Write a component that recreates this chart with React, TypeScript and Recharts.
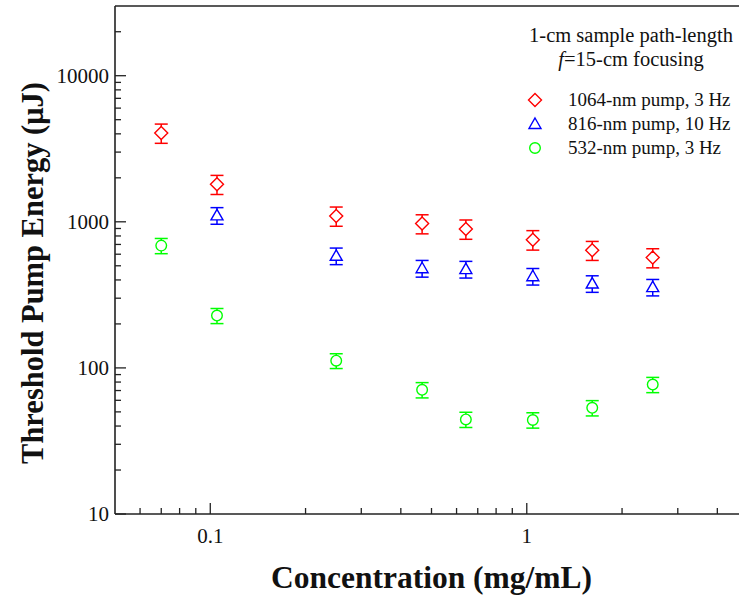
import React from 'react';
import { ScatterChart, Scatter, XAxis, YAxis, ErrorBar, ReferenceLine, Legend } from 'recharts';

// concentration (mg/mL) at each measured point
const concentrations = [0.07, 0.105, 0.25, 0.467, 0.642, 1.045, 1.61, 2.5];
const concentrations816 = [0.105, 0.25, 0.467, 0.642, 1.045, 1.61, 2.5];

// threshold pump energy (uJ) and error
const pump1064 = [4055, 1808, 1097, 972, 894, 755, 639, 569];
const pump1064Err = [610, 270, 165, 145, 135, 115, 95, 85];
const pump816 = [1106, 585, 481, 474, 424, 378, 357];
const pump816Err = [144, 76, 63, 62, 55, 49, 46];
const pump532 = [687, 228, 112, 70.8, 44.4, 44.0, 53.3, 76.9];
const pump532Err = [82, 27, 13, 8.5, 5.3, 5.3, 6.4, 9.2];

const seriesNames = ['1064-nm pump, 3 Hz', '816-nm pump, 10 Hz', '532-nm pump, 3 Hz'];

const xTicks = [0.06, 0.07, 0.08, 0.09, 0.1, 0.2, 0.3, 0.4, 0.5, 0.6, 0.7, 0.8, 0.9, 1, 2, 3, 4];
const xLabels = [0.1, 1];
const yTicks = [10, 20, 30, 40, 50, 60, 70, 80, 90, 100, 200, 300, 400, 500, 600, 700, 800, 900,
    1000, 2000, 3000, 4000, 5000, 6000, 7000, 8000, 9000, 10000, 20000];
const yLabels = [10, 100, 1000, 10000];

const RED = '#ff0000';
const BLUE = '#0000ff';
const GREEN = '#00ff00';
const AXIS = '#222';
const FONT = '"Liberation Serif", "Times New Roman", serif';

const data1064 = concentrations.map((x, i) => ({ x, y: pump1064[i], err: pump1064Err[i] }));
const data816 = concentrations816.map((x, i) => ({ x, y: pump816[i], err: pump816Err[i] }));
const data532 = concentrations.map((x, i) => ({ x, y: pump532[i], err: pump532Err[i] }));

const Diamond = ({ cx, cy, color }: any) => (
    <path d={`M${cx},${cy - 6.5}L${cx + 6.5},${cy}L${cx},${cy + 6.5}L${cx - 6.5},${cy}Z`}
        fill="#fff" stroke={color} strokeWidth={1.4} />
);
const Triangle = ({ cx, cy, color }: any) => (
    <path d={`M${cx},${cy - 6}L${cx + 6},${cy + 4.5}L${cx - 6},${cy + 4.5}Z`}
        fill="#fff" stroke={color} strokeWidth={1.4} />
);
const Circle = ({ cx, cy, color }: any) => (
    <circle cx={cx} cy={cy} r={5.3} fill="#fff" stroke={color} strokeWidth={1.4} />
);

const shapes: Record<string, any> = {
    [seriesNames[0]]: Diamond,
    [seriesNames[1]]: Triangle,
    [seriesNames[2]]: Circle,
};

const XTick = ({ x, y, payload }: any) => {
    const major = xLabels.includes(payload.value);
    return (
        <g>
            <line x1={x} y1={y} x2={x} y2={y - (major ? 11 : 6)} stroke={AXIS} strokeWidth={1.3} />
            {major && (
                <text x={x} y={y + 29} textAnchor="middle" fontSize={21} fontFamily={FONT} fill="#111">
                    {payload.value}
                </text>
            )}
        </g>
    );
};

const YTick = ({ x, y, payload }: any) => {
    const major = yLabels.includes(payload.value);
    return (
        <g>
            <line x1={x} y1={y} x2={x + (major ? 11 : 6)} y2={y} stroke={AXIS} strokeWidth={1.3} />
            {major && (
                <text x={x - 6} y={y} dy="0.35em" textAnchor="end" fontSize={21} fontFamily={FONT} fill="#111">
                    {payload.value}
                </text>
            )}
        </g>
    );
};

const renderLegend = ({ payload }: any) => {
    const items = seriesNames
        .map((n) => payload.find((p: any) => p.value === n))
        .filter(Boolean);
    return (
        <div style={{ fontFamily: FONT, fontSize: 20.5, lineHeight: '24px', color: '#111' }}>
            <div style={{ textAlign: 'center' }}>1-cm sample path-length</div>
            <div style={{ textAlign: 'center' }}><i>f</i>=15-cm focusing</div>
            <div style={{ marginTop: 17, fontSize: 19 }}>
                {items.map((entry: any) => {
                    const Shape = shapes[entry.value];
                    return (
                        <div key={entry.value} style={{ display: 'flex', alignItems: 'center', height: 24 }}>
                            <svg width={16} height={16} style={{ marginLeft: 7, flexShrink: 0 }}>
                                <Shape cx={8} cy={8} color={entry.color} />
                            </svg>
                            <span style={{ marginLeft: 25, whiteSpace: 'nowrap' }}>{entry.value}</span>
                        </div>
                    );
                })}
            </div>
        </div>
    );
};

export default function App() {
    return (
        <div style={{ position: 'absolute', left: 0, top: 0, width: 739, height: 596, overflow: 'hidden', background: '#fff' }}>
            <ScatterChart width={760} height={596} margin={{ top: 6, right: 12, bottom: 22, left: 0 }}>
                <XAxis
                    dataKey="x"
                    type="number"
                    scale="log"
                    domain={[0.05, 5]}
                    allowDataOverflow
                    ticks={xTicks}
                    interval={0}
                    height={60}
                    tickSize={0}
                    tickLine={false}
                    tickMargin={0}
                    tick={<XTick />}
                    axisLine={{ stroke: AXIS, strokeWidth: 1.6 }}
                    label={(props: any) => {
                        const vb = props.viewBox;
                        return (
                            <text x={vb.x + vb.width / 2} y={vb.y + 63} dy="0.35em" textAnchor="middle"
                                fontSize={31.5} fontWeight="bold" fontFamily={FONT} fill="#111">
                                Concentration (mg/mL)
                            </text>
                        );
                    }}
                />
                <YAxis
                    dataKey="y"
                    type="number"
                    scale="log"
                    domain={[10, 30000]}
                    allowDataOverflow
                    ticks={yTicks}
                    interval={0}
                    width={115}
                    tickSize={0}
                    tickLine={false}
                    tickMargin={0}
                    tick={<YTick />}
                    axisLine={{ stroke: AXIS, strokeWidth: 1.6 }}
                    label={(props: any) => {
                        const vb = props.viewBox;
                        const cy = vb.y + vb.height / 2 + 13;
                        return (
                            <text x={32} y={cy} dy="0.35em" textAnchor="middle" transform={`rotate(-90, 32, ${cy})`}
                                fontSize={30.5} fontWeight="bold" fontFamily={FONT} fill="#111">
                                Threshold Pump Energy (μJ)
                            </text>
                        );
                    }}
                />
                <ReferenceLine y={30000} stroke={AXIS} strokeWidth={1.6} />
                <ReferenceLine x={5} stroke={AXIS} strokeWidth={1.6} />
                <Legend
                    layout="vertical"
                    align="center"
                    verticalAlign="middle"
                    content={renderLegend}
                    wrapperStyle={{ left: 520, top: 23, width: 222 }}
                />
                <Scatter name={seriesNames[0]} data={data1064} fill={RED} stroke={RED}
                    shape={(p: any) => <Diamond cx={p.cx} cy={p.cy} color={RED} />} isAnimationActive={false}>
                    <ErrorBar dataKey="err" direction="y" width={6.5} stroke={RED} strokeWidth={1.5} isAnimationActive={false} />
                </Scatter>
                <Scatter name={seriesNames[1]} data={data816} fill={BLUE} stroke={BLUE}
                    shape={(p: any) => <Triangle cx={p.cx} cy={p.cy} color={BLUE} />} isAnimationActive={false}>
                    <ErrorBar dataKey="err" direction="y" width={6.5} stroke={BLUE} strokeWidth={1.5} isAnimationActive={false} />
                </Scatter>
                <Scatter name={seriesNames[2]} data={data532} fill={GREEN} stroke={GREEN}
                    shape={(p: any) => <Circle cx={p.cx} cy={p.cy} color={GREEN} />} isAnimationActive={false}>
                    <ErrorBar dataKey="err" direction="y" width={6.5} stroke={GREEN} strokeWidth={1.5} isAnimationActive={false} />
                </Scatter>
            </ScatterChart>
        </div>
    );
}
